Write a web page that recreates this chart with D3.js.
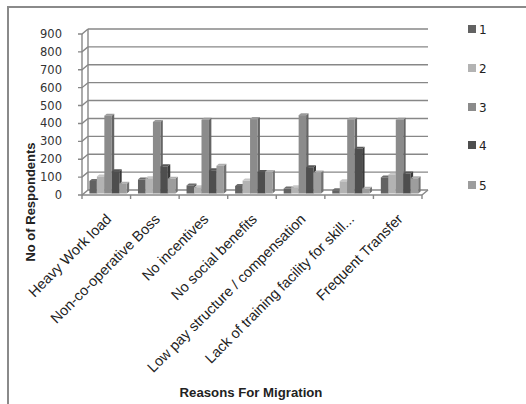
<!DOCTYPE html>
<html>
<head>
<meta charset="utf-8">
<script src="https://cdn.jsdelivr.net/npm/d3@7"></script>
<style>
  html, body { margin: 0; padding: 0; background: #fff; }
  svg { display: block; }
</style>
</head>
<body>
<svg id="chart" width="526" height="404"></svg>
<script>
// Reasons for migration (categories) and respondent counts per rating 1..5
const categories = [
  "Heavy Work load",
  "Non-co-operative Boss",
  "No incentives",
  "No social benefits",
  "Low pay structure / compensation",
  "Lack of training facility for skill...",
  "Frequent Transfer"
];
const seriesNames = ["1", "2", "3", "4", "5"];
const series1 = [70, 78, 45, 42, 28, 18, 90];
const series2 = [95, 85, 35, 72, 35, 68, 105];
const series3 = [435, 400, 412, 416, 438, 414, 412];
const series4 = [125, 152, 130, 120, 147, 250, 112];
const series5 = [55, 82, 155, 120, 118, 26, 85];
const seriesValues = [series1, series2, series3, series4, series5];
const yTicks = [0, 100, 200, 300, 400, 500, 600, 700, 800, 900];
const seriesColors = ["#626262", "#b3b3b3", "#8b8b8b", "#4e4e4e", "#9d9d9d"];

const svg = d3.select("#chart");
svg.append("rect").attr("width", 526).attr("height", 404).attr("fill", "#fff");

// outer chart frame
svg.append("path")
  .attr("d", "M8,404 L8,7 L526,7")
  .attr("fill", "none").attr("stroke", "#8a8a8a").attr("stroke-width", 2);

// 3D depth offset of the back wall relative to the front plane
const DX = 6, DY = -5;
const x0 = 82, x1 = 422;

const y = d3.scaleLinear().domain([0, 900]).range([195, 34]);
const xCat = d3.scaleBand().domain(categories).range([x0, x1])
  .paddingInner(1.5 / 6.5).paddingOuter(0.75 / 6.5);
const xSer = d3.scaleBand().domain(seriesNames).range([0, xCat.bandwidth()]);

const gridColor = "#878787";
const walls = svg.append("g").attr("fill", "none").attr("stroke", gridColor).attr("stroke-width", 1.4);

// back-wall gridlines and left-wall connectors
yTicks.forEach(t => {
  const yy = y(t);
  if (t > 0) {
    walls.append("line").attr("x1", x0 + DX).attr("x2", x1 + DX)
      .attr("y1", yy + DY).attr("y2", yy + DY);
  }
  walls.append("path").attr("d", `M${x0 - 4},${yy} L${x0},${yy} L${x0 + DX},${yy + DY}`);
});
// left wall edges
walls.append("line").attr("x1", x0).attr("x2", x0).attr("y1", y(0)).attr("y2", y(900));
walls.append("line").attr("x1", x0 + DX).attr("x2", x0 + DX).attr("y1", y(0) + DY).attr("y2", y(900) + DY);
// floor
walls.append("line").attr("x1", x0).attr("x2", x1).attr("y1", y(0)).attr("y2", y(0));
walls.append("line").attr("x1", x0 + DX).attr("x2", x1 + DX).attr("y1", y(0) + DY).attr("y2", y(0) + DY);
walls.append("line").attr("x1", x1).attr("x2", x1 + DX).attr("y1", y(0)).attr("y2", y(0) + DY);
// category tick marks on the floor edge
const step = xCat.step();
d3.range(categories.length + 1).forEach(i => {
  const xx = x0 + i * step;
  walls.append("line").attr("x1", xx).attr("x2", xx).attr("y1", y(0)).attr("y2", y(0) + 4);
});

// y tick labels
svg.append("g").selectAll("text").data(yTicks).join("text")
  .attr("x", 62).attr("y", d => y(d) + 4)
  .attr("text-anchor", "end")
  .attr("font-family", "DejaVu Sans").attr("font-size", 11.5)
  .attr("fill", "#333")
  .text(d => d);

// 3D columns
const FX = 1.8, FY = -1.5;   // front face offset into depth
const BX = 2.4, BY = -2.0;   // column depth
const bars = svg.append("g");
categories.forEach((cat, ci) => {
  seriesNames.forEach((s, si) => {
    const v = seriesValues[si][ci];
    const c = d3.color(seriesColors[si]);
    const xa = xCat(cat) + xSer(s) + FX;
    const xb = xa + xSer.bandwidth();
    const yt = y(v) + FY, yb = y(0) + FY;
    // side face
    bars.append("path")
      .attr("d", `M${xb},${yt} L${xb + BX},${yt + BY} L${xb + BX},${yb + BY} L${xb},${yb} Z`)
      .attr("fill", c.darker(0.9));
    // top face
    bars.append("path")
      .attr("d", `M${xa},${yt} L${xb},${yt} L${xb + BX},${yt + BY} L${xa + BX},${yt + BY} Z`)
      .attr("fill", c.brighter(0.3));
    // front face
    bars.append("rect")
      .attr("x", xa).attr("y", yt).attr("width", xb - xa).attr("height", yb - yt)
      .attr("fill", c);
  });
});

// category labels, rotated
svg.append("g").selectAll("text").data(categories).join("text")
  .attr("transform", d => `translate(${xCat(d) + xCat.bandwidth() / 2 + 6},220) rotate(-45)`)
  .attr("text-anchor", "end")
  .attr("font-family", "Liberation Sans").attr("font-size", 14.5)
  .attr("fill", "#222")
  .text(d => d);

// axis titles
svg.append("text")
  .attr("transform", "translate(35,202) rotate(-90)")
  .attr("text-anchor", "middle")
  .attr("font-family", "Liberation Sans").attr("font-weight", "bold").attr("font-size", 13)
  .attr("fill", "#222")
  .text("No of Respondents");
svg.append("text")
  .attr("x", 251).attr("y", 397)
  .attr("text-anchor", "middle")
  .attr("font-family", "Liberation Sans").attr("font-weight", "bold").attr("font-size", 13.2)
  .attr("fill", "#222")
  .text("Reasons For Migration");

// legend
const legendY = [29, 68, 107, 145, 185];
const legend = svg.append("g");
seriesNames.forEach((s, i) => {
  legend.append("rect").attr("x", 468).attr("y", legendY[i] - 4).attr("width", 8).attr("height", 8)
    .attr("fill", seriesColors[i]);
  legend.append("text").attr("x", 479).attr("y", legendY[i] + 4.5)
    .attr("font-family", "DejaVu Sans").attr("font-size", 12)
    .attr("fill", "#222").text(s);
});
</script>
</body>
</html>
